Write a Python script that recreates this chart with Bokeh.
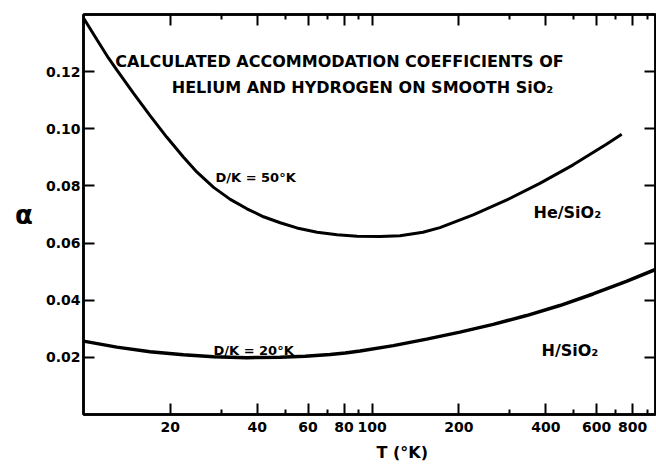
from bokeh.plotting import figure
from bokeh.models import (FixedTicker, LinearAxis, LogAxis, Label, Range1d,
                          NumeralTickFormatter, Title)
from bokeh.embed import file_html
from bokeh.resources import INLINE

# ---- data ----
he_T = [10, 11.15, 12.20, 13.04, 14.89, 17.01, 19.42, 22.18, 24.74, 28.24, 32.26,
        36.85, 42.06, 48.05, 54.89, 64.53, 75.64, 88.76, 106.6, 125.0, 150.1,
        171.9, 224.1, 293.2, 381.4, 496.1, 648.9, 733.1]
he_alpha = [0.1388, 0.1311, 0.1248, 0.1206, 0.1125, 0.1046, 0.0971, 0.0901,
            0.0848, 0.0795, 0.0753, 0.0720, 0.0692, 0.0671, 0.0653, 0.0638,
            0.0629, 0.0624, 0.0623, 0.0626, 0.0638, 0.0654, 0.0699, 0.0751,
            0.0809, 0.0873, 0.0946, 0.0981]

h_T = [10, 13.04, 17.01, 22.18, 28.24, 36.85, 48.05, 58.6, 71.56, 80.7, 90.88,
       118.5, 154.6, 201.6, 262.9, 343.0, 447.3, 583.2, 760.9, 960]
h_alpha = [0.02568, 0.02358, 0.0220, 0.02088, 0.02018, 0.0199, 0.02007, 0.02039,
           0.02102, 0.02154, 0.02225, 0.0241, 0.02639, 0.02884, 0.03154, 0.03463,
           0.03814, 0.04218, 0.04656, 0.05077]

x_major = [20, 40, 60, 80, 100, 200, 400, 600, 800]
x_minor = [30, 50, 70, 90, 300, 500, 700, 900]
y_major = [0.02, 0.04, 0.06, 0.08, 0.10, 0.12]

title_lines = ["CALCULATED ACCOMMODATION COEFFICIENTS OF",
               "HELIUM AND HYDROGEN ON SMOOTH SiO\u2082"]
x_label = "T (\u00b0K)"
y_label = "\u03b1"

FONT = "DejaVu Sans"
LW = 2.5

p = figure(width=656, height=471, x_axis_type="log",
           x_range=Range1d(10, 960), y_range=Range1d(0, 0.14),
           output_backend="svg", toolbar_location=None,
           min_border_left=83, min_border_right=1, min_border_top=14,
           min_border_bottom=57)
p.background_fill_color = "white"
p.border_fill_color = "white"
p.grid.visible = False
p.outline_line_color = "black"
p.outline_line_width = LW


def style_axis(ax, labels=True):
    ax.axis_line_width = LW
    ax.axis_line_color = "black"
    ax.major_tick_in = 11
    ax.major_tick_out = 0
    ax.minor_tick_in = 5
    ax.minor_tick_out = 0
    ax.major_tick_line_width = 2
    ax.minor_tick_line_width = 2
    ax.major_label_text_font = FONT
    ax.major_label_text_font_style = "bold"
    ax.major_label_text_color = "black"
    if labels:
        ax.major_label_text_font_size = "14px"
    else:
        ax.major_label_text_font_size = "1px"
        ax.major_label_text_color = None
        ax.major_label_standoff = 0


xt = FixedTicker(ticks=x_major, minor_ticks=x_minor)
yt = FixedTicker(ticks=y_major, minor_ticks=[])

xa = p.xaxis[0]
ya = p.yaxis[0]
xa.ticker = xt
xa.formatter = NumeralTickFormatter(format="0")
ya.ticker = yt
ya.formatter = NumeralTickFormatter(format="0.00")
style_axis(xa)
style_axis(ya)
xa.major_label_standoff = 7
ya.major_label_standoff = 3

# y axis label (alpha), horizontal if supported
ya.axis_label = y_label
ya.axis_label_text_font = FONT
ya.axis_label_text_font_style = "bold"
ya.axis_label_text_font_size = "26px"
ya.axis_label_text_color = "black"
ya.axis_label_standoff = 10
if "axis_label_orientation" in ya.properties():
    ya.axis_label_orientation = "horizontal"

top = LogAxis(ticker=xt)
style_axis(top, labels=False)
p.add_layout(top, "above")
right = LinearAxis(ticker=yt)
style_axis(right, labels=False)
p.add_layout(right, "right")

# x axis label as a title below, shifted right like the reference
p.add_layout(Title(text=x_label, align="left", offset=293, text_font=FONT,
                   text_font_style="bold", text_font_size="16px",
                   text_color="black", standoff=13), "below")

p.line(he_T, he_alpha, line_color="black", line_width=3)
p.line(h_T, h_alpha, line_color="black", line_width=3.5)

# helpers: canvas pixel -> screen units relative to frame bottom-left
FL, FB = 83, 413.7


def lab(text, cx, cy, size, align="left", baseline="alphabetic"):
    p.add_layout(Label(x=cx - FL, y=FB - cy, x_units="screen", y_units="screen",
                       text=text, text_font=FONT, text_font_style="bold",
                       text_font_size=size, text_color="black",
                       text_align=align, text_baseline=baseline))


lab(title_lines[0], 339, 61, "16px", align="center")
lab(title_lines[1], 362, 87, "16px", align="center")
lab("D/K = 50\u00b0K", 215, 177, "13px")
lab("D/K = 20\u00b0K", 213, 350, "13px")
lab("He/SiO\u2082", 533, 212, "16px")
lab("H/SiO\u2082", 541, 350, "16px")

open("out.html", "w").write(file_html(p, INLINE))
